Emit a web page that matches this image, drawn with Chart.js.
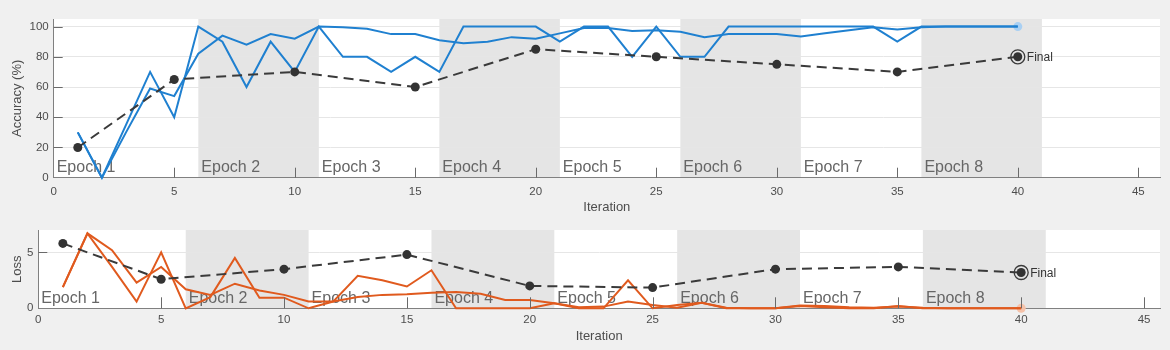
<!DOCTYPE html>
<html>
<head>
<meta charset="utf-8">
<script src="https://cdn.jsdelivr.net/npm/chart.js@4.4.1/dist/chart.umd.min.js"></script>
<style>
  html, body { margin: 0; padding: 0; background: #f0f0f0; }
  #top { position: absolute; left: 0; top: 0; width: 1170px; height: 218px; }
  #bot { position: absolute; left: 0; top: 218px; width: 1170px; height: 132px; }
</style>
</head>
<body>
<div id="top"><canvas id="acc"></canvas></div>
<div id="bot"><canvas id="loss"></canvas></div>
<script>
// iterations logged during training
const iterations = [1, 2, 3, 4, 5, 6, 7, 8, 9, 10, 11, 12, 13, 14, 15, 16, 17, 18, 19, 20,
  21, 22, 23, 24, 25, 26, 27, 28, 29, 30, 31, 32, 33, 34, 35, 36, 37, 38, 39, 40];

const accuracyRaw = [30, 0, 35, 70, 40, 100, 90, 60, 90, 70, 100, 80, 80, 70, 80, 70, 100, 100, 100, 100,
  90, 100, 100, 80, 100, 80, 80, 100, 100, 100, 100, 100, 100, 100, 90, 100, 100, 100, 100, 100];
const accuracySmooth = [30, 0, 30, 59, 54, 82, 94, 88, 95, 92, 100, 99.5, 98.5, 95, 95, 91, 89, 90, 93, 92,
  95.5, 99, 99, 97, 97.5, 96.5, 93, 95, 95, 95, 93.5, 95.5, 97.5, 99.5, 98, 99.5, 100, 100, 100, 100];

const lossRaw = [1.9, 6.7, 3.7, 0.6, 5.0, 0, 1.0, 4.5, 0.95, 0.95, 0, 0.6, 2.9, 2.5, 1.95, 3.4, 0, 0, 0, 0,
  0.45, 0, 0, 2.5, 0, 0.3, 0.5, 0, 0, 0, 0.2, 0.1, 0, 0, 0.2, 0, 0, 0, 0, 0];
const lossSmooth = [1.9, 6.7, 5.2, 2.3, 3.7, 1.7, 1.2, 2.2, 1.6, 1.2, 0.6, 0.6, 1.0, 1.2, 1.25, 1.4, 1.45, 1.3, 0.75, 0.75,
  0.45, 0.1, 0.15, 0.6, 0.3, 0.05, 0.5, 0.05, 0, 0, 0.25, 0.2, 0.1, 0.05, 0.15, 0.05, 0, 0, 0, 0];

// validation is run every 5 iterations
const valIterations = [1, 5, 10, 15, 20, 25, 30, 35, 40];
const accuracyVal = [20, 65, 70, 60, 85, 80, 75, 70, 80];
const lossVal = [5.8, 2.6, 3.5, 4.8, 2.0, 1.85, 3.5, 3.7, 3.2];

// epoch shading
const epochStart = [0, 6, 11, 16, 21, 26, 31, 36];
const epochEnd = [6, 11, 16, 21, 26, 31, 36, 41];
const epochLabels = ["Epoch 1", "Epoch 2", "Epoch 3", "Epoch 4", "Epoch 5", "Epoch 6", "Epoch 7", "Epoch 8"];

const FONT = "'Liberation Sans', Arial, Helvetica, sans-serif";
const BLUE = "#1f80d0";
const ORANGE = "#e05a1e";
const DARK = "#3a3a3a";
const AXIS = "#808080";
const TEXT = "#4d4d4d";

function pts(xs, ys) {
  return xs.map((x, i) => ({ x: x, y: ys[i] }));
}

// draws the white plot area, epoch bands, labels, inner tick marks and the "Final" mark
function decor(cfg) {
  return {
    id: "decor",
    beforeDraw(chart) {
      const { ctx, chartArea: a, scales: { x } } = chart;
      ctx.save();
      ctx.fillStyle = "#ffffff";
      ctx.fillRect(a.left, a.top, a.right - a.left, a.bottom - a.top);
      ctx.fillStyle = "#e5e5e5";
      for (let i = 1; i < epochStart.length; i += 2) {
        const x0 = x.getPixelForValue(epochStart[i]);
        const x1 = x.getPixelForValue(epochEnd[i]);
        ctx.fillRect(x0, a.top, x1 - x0, a.bottom - a.top);
      }
      ctx.restore();
    },
    beforeDatasetsDraw(chart) {
      const { ctx, chartArea: a, scales: { x } } = chart;
      ctx.save();
      ctx.font = "16px " + FONT;
      ctx.fillStyle = "#666666";
      ctx.textBaseline = "alphabetic";
      epochLabels.forEach((t, i) => {
        ctx.fillText(t, x.getPixelForValue(epochStart[i]) + 3, a.bottom - cfg.labelGap);
      });
      ctx.restore();
    },
    afterDatasetsDraw(chart) {
      const { ctx, chartArea: a, scales: { x, y } } = chart;
      ctx.save();
      ctx.strokeStyle = "#6a6a6a";
      ctx.lineWidth = 1;
      x.ticks.forEach(t => {
        if (t.value === 0) return;
        const px = Math.round(x.getPixelForValue(t.value)) + 0.5;
        ctx.beginPath();
        ctx.moveTo(px, a.bottom);
        ctx.lineTo(px, a.bottom - cfg.tickLen);
        ctx.stroke();
      });
      y.ticks.forEach(t => {
        if (t.value === 0) return;
        const py = Math.round(y.getPixelForValue(t.value)) + 0.5;
        ctx.beginPath();
        ctx.moveTo(a.left, py);
        ctx.lineTo(a.left + 9, py);
        ctx.stroke();
      });
      // final validation point
      const fx = x.getPixelForValue(cfg.finalX);
      const fy = y.getPixelForValue(cfg.finalY);
      ctx.strokeStyle = DARK;
      ctx.lineWidth = 1.3;
      ctx.beginPath();
      ctx.arc(fx, fy, 7, 0, Math.PI * 2);
      ctx.stroke();
      ctx.font = "12px " + FONT;
      ctx.fillStyle = "#333333";
      ctx.textBaseline = "middle";
      ctx.fillText("Final", fx + 9, fy + 1);
      ctx.restore();
    }
  };
}

function makeChart(id, o) {
  return new Chart(document.getElementById(id), {
    type: "line",
    data: {
      datasets: [
        {
          data: pts(valIterations, o.val),
          borderColor: DARK,
          borderWidth: 2,
          borderDash: [10, 6],
          pointRadius: 4.5,
          pointBackgroundColor: "#333333",
          pointBorderWidth: 0,
          tension: 0,
          clip: false
        },
        {
          data: pts(iterations, o.smooth),
          borderColor: o.color,
          borderWidth: 2,
          pointRadius: 0,
          tension: 0,
          clip: false
        },
        {
          data: pts(iterations, o.raw),
          borderColor: o.color,
          borderWidth: 2,
          pointRadius: 0,
          tension: 0,
          clip: false
        },
        {
          data: [{ x: iterations[iterations.length - 1], y: o.raw[o.raw.length - 1] }],
          showLine: false,
          pointRadius: 4.5,
          pointBackgroundColor: o.light,
          pointBorderWidth: 0,
          clip: false
        }
      ]
    },
    options: {
      responsive: true,
      maintainAspectRatio: false,
      animation: false,
      layout: { padding: { top: o.padTop, right: 10, left: 0, bottom: 0 } },
      plugins: { legend: { display: false }, tooltip: { enabled: false } },
      scales: {
        x: {
          type: "linear",
          min: 0,
          max: o.xMax,
          afterFit: s => { s.height = o.xHeight; },
          ticks: {
            stepSize: 5,
            includeBounds: false,
            color: TEXT,
            padding: o.xTickPad,
            maxRotation: 0,
            font: { family: FONT, size: 11.5 }
          },
          grid: { drawOnChartArea: false, drawTicks: false },
          border: { color: AXIS, width: 1 },
          title: {
            display: true,
            text: "Iteration",
            color: TEXT,
            padding: { top: 0, bottom: o.xTitlePad },
            font: { family: FONT, size: 13 }
          }
        },
        y: {
          min: 0,
          max: o.yMax,
          afterFit: s => { s.width = o.yWidth; },
          ticks: {
            stepSize: o.yStep,
            includeBounds: false,
            color: TEXT,
            padding: 5,
            font: { family: FONT, size: 11.5 }
          },
          grid: { color: "#e6e6e6", drawTicks: false },
          border: { color: AXIS, width: 1 },
          title: {
            display: true,
            text: o.yTitle,
            color: TEXT,
            padding: { top: 10, bottom: 0 },
            font: { family: FONT, size: 13 }
          }
        }
      }
    },
    plugins: [decor(o.decor)]
  });
}

makeChart("acc", {
  raw: accuracyRaw, smooth: accuracySmooth, val: accuracyVal,
  color: BLUE, light: "#a9d0f3",
  xMax: 45.9, yMax: 105, yStep: 20, yTitle: "Accuracy (%)",
  padTop: 19, xHeight: 40.3, yWidth: 53.7, xTickPad: 7, xTitlePad: 3,
  decor: { finalX: 40, finalY: accuracyVal[accuracyVal.length - 1], tickLen: 10, labelGap: 6 }
});

makeChart("loss", {
  raw: lossRaw, smooth: lossSmooth, val: lossVal,
  color: ORANGE, light: "#f6c2a9",
  xMax: 45.65, yMax: 7, yStep: 5, yTitle: "Loss",
  padTop: 12, xHeight: 41.7, yWidth: 38.3, xTickPad: 5, xTitlePad: 5.5,
  decor: { finalX: 40, finalY: lossVal[lossVal.length - 1], tickLen: 11, labelGap: 5 }
});
</script>
</body>
</html>
